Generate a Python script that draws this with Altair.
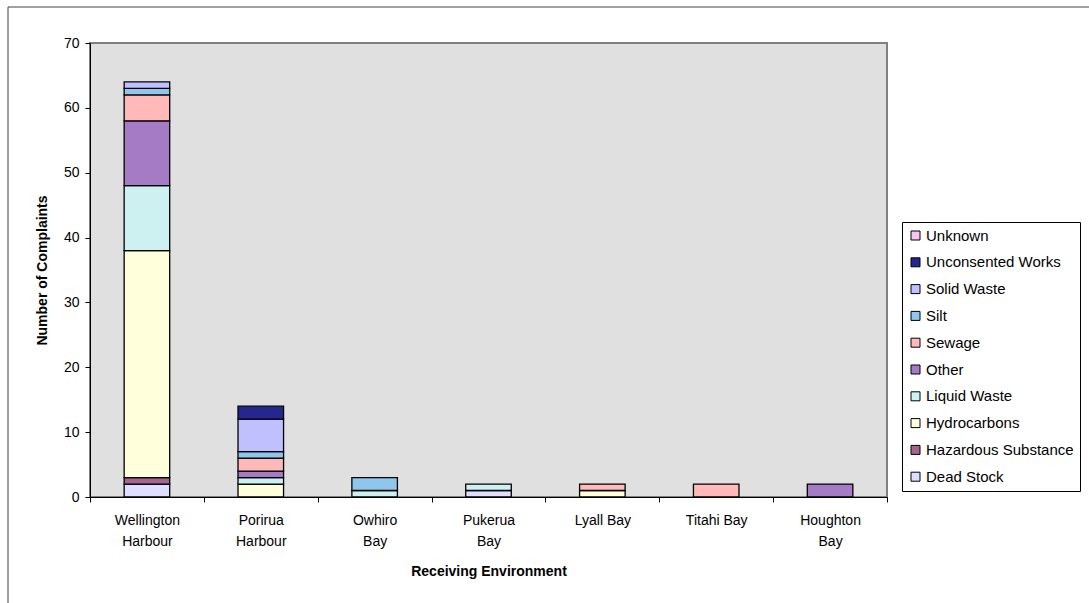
import json
import altair as alt
import pandas as pd

# Categories (x axis) and their wrapped display labels
categories = ["Wellington Harbour", "Porirua Harbour", "Owhiro Bay", "Pukerua Bay",
              "Lyall Bay", "Titahi Bay", "Houghton Bay"]
wrapped_labels = [["Wellington", "Harbour"], ["Porirua", "Harbour"], ["Owhiro", "Bay"],
                  ["Pukerua", "Bay"], ["Lyall Bay"], ["Titahi Bay"], ["Houghton", "Bay"]]

# Complaint types, bottom of stack first
types = ["Dead Stock", "Hazardous Substance", "Hydrocarbons", "Liquid Waste", "Other",
         "Sewage", "Silt", "Solid Waste", "Unconsented Works", "Unknown"]

dead_stock          = [2, 0, 0, 1, 0, 0, 0]
hazardous_substance = [1, 0, 0, 0, 0, 0, 0]
hydrocarbons        = [35, 2, 0, 0, 1, 0, 0]
liquid_waste        = [10, 1, 1, 1, 0, 0, 0]
other               = [10, 1, 0, 0, 0, 0, 2]
sewage              = [4, 2, 0, 0, 1, 2, 0]
silt                = [1, 1, 2, 0, 0, 0, 0]
solid_waste         = [1, 5, 0, 0, 0, 0, 0]
unconsented_works   = [0, 2, 0, 0, 0, 0, 0]
unknown             = [0, 0, 0, 0, 0, 0, 0]

series = [dead_stock, hazardous_substance, hydrocarbons, liquid_waste, other,
          sewage, silt, solid_waste, unconsented_works, unknown]

colors = ["#DEDEFF", "#A4648E", "#FFFFDC", "#CDF1F1", "#A67BC6",
          "#FFB9B9", "#8FC6EC", "#C0C0FF", "#26268F", "#F6C6F2"]

rows = []
for ti, (t, vals) in enumerate(zip(types, series)):
    for c, v in zip(categories, vals):
        if v > 0:
            rows.append({"Receiving Environment": c, "Type": t, "Count": v, "order": ti})
df = pd.DataFrame(rows)

label_expr = " : ".join(
    f"datum.value == '{c}' ? {json.dumps(w)}" for c, w in zip(categories, wrapped_labels)
) + " : datum.value"

FONT = "Liberation Sans"

bars = alt.Chart(df).mark_bar(
    width=alt.RelativeBandSize(0.4), stroke="#000000", strokeWidth=1.3
).encode(
    x=alt.X(
        "Receiving Environment:N",
        sort=categories,
        scale=alt.Scale(paddingInner=0, paddingOuter=0),
        axis=alt.Axis(
            title="Receiving Environment",
            labelExpr=label_expr,
            labelAngle=0,
            tickBand="extent",
            grid=False,
            domainColor="#000000",
            tickColor="#000000",
            tickSize=5,
            labelFont=FONT,
            labelFontSize=14,
            labelColor="#000000",
            labelLineHeight=21,
            labelPadding=11,
            titleFont=FONT,
            titleFontSize=14,
            titleFontWeight="bold",
            titleColor="#000000",
            titlePadding=16,
        ),
    ),
    y=alt.Y(
        "Count:Q",
        stack="zero",
        scale=alt.Scale(domain=[0, 70], nice=False),
        axis=alt.Axis(
            title="Number of Complaints",
            values=list(range(0, 71, 10)),
            grid=False,
            domainColor="#000000",
            tickColor="#000000",
            tickSize=5,
            labelFont=FONT,
            labelFontSize=14,
            labelColor="#000000",
            labelPadding=6,
            titleFont=FONT,
            titleFontSize=14,
            titleFontWeight="bold",
            titleColor="#000000",
            titlePadding=14,
        ),
    ),
    color=alt.Color(
        "Type:N",
        scale=alt.Scale(domain=types[::-1], range=colors[::-1]),
        legend=alt.Legend(
            title=None,
            orient="none",
            legendX=812,
            legendY=179,
            padding=6,
            strokeColor="#000000",
            fillColor="#FFFFFF",
            symbolType="square",
            symbolSize=81,
            symbolStrokeColor="#000000",
            symbolStrokeWidth=1,
            symbolOpacity=1,
            labelOffset=3,
            labelFont=FONT,
            labelFontSize=15,
            labelColor="#000000",
            rowPadding=10.8,
            labelLimit=300,
        ),
    ),
    order=alt.Order("order:Q", sort="ascending"),
)

frame_df = pd.DataFrame({"k": [0]})
frame_left = alt.Chart(frame_df).mark_rule(color="#404040", strokeWidth=1).encode(
    x=alt.value(-82), y=alt.value(-36), y2=alt.value(620)
)
frame_top = alt.Chart(frame_df).mark_rule(color="#404040", strokeWidth=1).encode(
    x=alt.value(-82), x2=alt.value(1100), y=alt.value(-36)
)

chart = alt.layer(bars, frame_left, frame_top).properties(
    width=797,
    height=454,
    autosize=alt.AutoSizeParams(type="none"),
    padding={"left": 90, "top": 43, "right": 202, "bottom": 106},
    background="#FFFFFF",
).configure_view(
    fill="#E0E0E0", stroke="#808080", strokeWidth=2
)

chart.save("out.html", embed_options={"renderer": "svg", "actions": False})
